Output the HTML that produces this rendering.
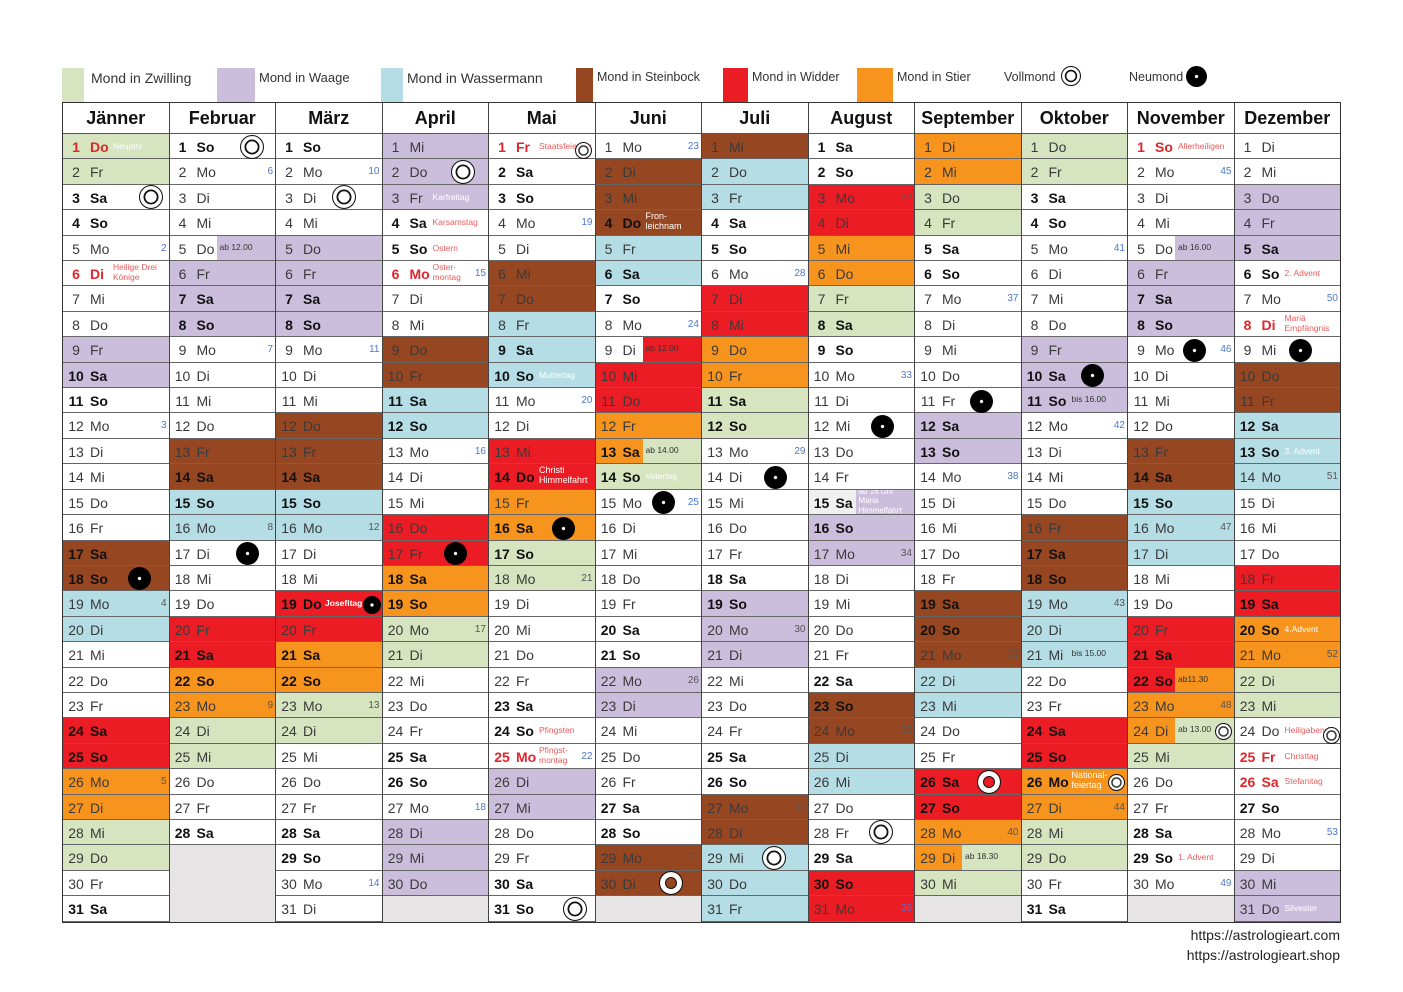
<!DOCTYPE html>
<html><head><meta charset="utf-8">
<style>
*{margin:0;padding:0;box-sizing:border-box}
body{width:1403px;height:992px;background:#fff;position:relative;font-family:"Liberation Sans",Arial,sans-serif;overflow:hidden}
.lg{position:absolute;top:68px;height:34px}
.lt{position:absolute;font-size:13px;color:#333;top:70px}
.col{position:absolute;top:102px;width:106.5px;height:820px;border-left:1.5px solid #444}
.hd{height:32px;line-height:32px;text-align:center;font-weight:bold;font-size:18px;color:#111;border-bottom:1.5px solid #555}
p{position:relative;height:25.42px;border-bottom:1.3px solid #666;font-size:14px;color:#3a3a3a}
p b{position:absolute;left:2px;width:22px;text-align:center;top:5px;font-weight:normal}
p i{position:absolute;left:27px;top:5px;font-style:normal}
p.k b,p.k i{font-weight:bold;color:#111}
p.h b,p.h i{font-weight:bold;color:#e0262b}
p u{position:absolute;right:2px;top:7px;font-size:10px;text-decoration:none;color:#4a78cc}
p em{position:absolute;left:50px;top:7px;font-size:8.5px;font-style:normal;color:#f05a5a;line-height:10px;white-space:nowrap}
p em.t{top:1px}
p em.d{color:#333;top:6px}
.g{background:#d6e4bf}.l{background:#cbbedc}.a{background:#b5dde5}.s{background:#974622}.r{background:#ec1c24}.o{background:#f7941d}.x{background:#e6e4e5}.y{background:#f0f0f0}
.g u,.l u,.a u,.s u,.r u,.o u{color:#555}
.g em,.l em,.a em,.s em,.r em,.o em{color:#fff}
.g em.d,.l em.d,.a em.d,.s em.d,.r em.d,.o em.d{color:#333}
.sp{position:absolute;left:47px;right:0;top:0;bottom:0}
.v{position:absolute;top:0.5px;width:24px;height:24px;margin-left:-12px;border-radius:50%;border:1.6px solid #111;background:#fff;box-shadow:inset 0 0 0 3.5px #fff,inset 0 0 0 5.3px #111}
.v.sm{width:17px;height:17px;margin-left:-8.5px;top:5px;border-width:1.3px;box-shadow:inset 0 0 0 2.2px #fff,inset 0 0 0 3.7px #333}
.v.w{box-shadow:inset 0 0 0 5px #fff,inset 0 0 0 6px #111;background:#974622}
.v.wr{box-shadow:inset 0 0 0 5px #fff,inset 0 0 0 6px #111;background:#ec1c24}
.n{position:absolute;top:1.5px;width:23px;height:23px;margin-left:-11.5px;border-radius:50%;background:radial-gradient(circle,#fff 1.3px,#000 2px)}
.n.sm{width:18px;height:18px;margin-left:-9px;top:5px}
.ft{position:absolute;right:63px;font-size:14px;color:#222}
</style></head><body>

<div class="lg g" style="left:62px;width:22px"></div><div class="lt" style="left:91px;font-size:14px">Mond in Zwilling</div>
<div class="lg l" style="left:217px;width:38px"></div><div class="lt" style="left:259px">Mond in Waage</div>
<div class="lg a" style="left:381px;width:22px"></div><div class="lt" style="left:407px;font-size:14px">Mond in Wassermann</div>
<div class="lg s" style="left:576px;width:17px"></div><div class="lt" style="left:597px;font-size:12.5px">Mond in Steinbock</div>
<div class="lg r" style="left:723px;width:25px"></div><div class="lt" style="left:752px;font-size:12.5px">Mond in Widder</div>
<div class="lg o" style="left:857px;width:36px"></div><div class="lt" style="left:897px;font-size:12.5px">Mond in Stier</div>
<div class="lt" style="left:1004px;font-size:12.5px">Vollmond</div><div class="v" style="left:1071px;top:66px;width:20px;height:20px;margin-left:-10px;border-width:1.3px;box-shadow:inset 0 0 0 2.8px #fff,inset 0 0 0 4.4px #111"></div>
<div class="lt" style="left:1129px;font-size:12.5px">Neumond</div><div class="n" style="left:1196px;top:66px;width:21px;height:21px;margin-left:-10.5px"></div>

<div style="position:absolute;left:62px;top:102px;width:1279px;height:821px;border:1.5px solid #333;z-index:5;pointer-events:none"></div>

<div class="col" style="left:62px"><div class="hd">Jänner</div>
<p class="g h"><b>1</b><i>Do</i><em>Neujahr</em></p>
<p class="g"><b>2</b><i>Fr</i></p>
<p class="k"><b>3</b><i>Sa</i><span class="v" style="left:88px"></span></p>
<p class="k"><b>4</b><i>So</i></p>
<p><b>5</b><i>Mo</i><u>2</u></p>
<p class="h"><b>6</b><i>Di</i><em class="t">Heilige Drei<br>Könige</em></p>
<p><b>7</b><i>Mi</i></p>
<p><b>8</b><i>Do</i></p>
<p class="l"><b>9</b><i>Fr</i></p>
<p class="l k"><b>10</b><i>Sa</i></p>
<p class="k"><b>11</b><i>So</i></p>
<p><b>12</b><i>Mo</i><u>3</u></p>
<p><b>13</b><i>Di</i></p>
<p><b>14</b><i>Mi</i></p>
<p><b>15</b><i>Do</i></p>
<p><b>16</b><i>Fr</i></p>
<p class="s k"><b>17</b><i>Sa</i></p>
<p class="s k"><b>18</b><i>So</i><span class="n" style="left:76px"></span></p>
<p class="a"><b>19</b><i>Mo</i><u>4</u></p>
<p class="a"><b>20</b><i>Di</i></p>
<p><b>21</b><i>Mi</i></p>
<p><b>22</b><i>Do</i></p>
<p><b>23</b><i>Fr</i></p>
<p class="r k"><b>24</b><i>Sa</i></p>
<p class="r k"><b>25</b><i>So</i></p>
<p class="o"><b>26</b><i>Mo</i><u>5</u></p>
<p class="o"><b>27</b><i>Di</i></p>
<p class="g"><b>28</b><i>Mi</i></p>
<p class="g"><b>29</b><i>Do</i></p>
<p><b>30</b><i>Fr</i></p>
<p class="k"><b>31</b><i>Sa</i></p>
</div>

<div class="col" style="left:168.5px"><div class="hd">Februar</div>
<p class="k"><b>1</b><i>So</i><span class="v" style="left:82px"></span></p>
<p><b>2</b><i>Mo</i><u>6</u></p>
<p><b>3</b><i>Di</i></p>
<p><b>4</b><i>Mi</i></p>
<p><span class="sp l"></span><b>5</b><i>Do</i><em class="d">ab 12.00</em></p>
<p class="l"><b>6</b><i>Fr</i></p>
<p class="l k"><b>7</b><i>Sa</i></p>
<p class="l k"><b>8</b><i>So</i></p>
<p><b>9</b><i>Mo</i><u>7</u></p>
<p><b>10</b><i>Di</i></p>
<p><b>11</b><i>Mi</i></p>
<p><b>12</b><i>Do</i></p>
<p class="s"><b>13</b><i>Fr</i></p>
<p class="s k"><b>14</b><i>Sa</i></p>
<p class="a k"><b>15</b><i>So</i></p>
<p class="a"><b>16</b><i>Mo</i><u>8</u></p>
<p><b>17</b><i>Di</i><span class="n" style="left:78px"></span></p>
<p><b>18</b><i>Mi</i></p>
<p><b>19</b><i>Do</i></p>
<p class="r"><b>20</b><i>Fr</i></p>
<p class="r k"><b>21</b><i>Sa</i></p>
<p class="o k"><b>22</b><i>So</i></p>
<p class="o"><b>23</b><i>Mo</i><u>9</u></p>
<p class="g"><b>24</b><i>Di</i></p>
<p class="g"><b>25</b><i>Mi</i></p>
<p><b>26</b><i>Do</i></p>
<p><b>27</b><i>Fr</i></p>
<p class="k"><b>28</b><i>Sa</i></p>
<p class="x" style="height:76.26px;border-bottom:none"></p>
</div>

<div class="col" style="left:275px"><div class="hd">März</div>
<p class="k"><b>1</b><i>So</i></p>
<p><b>2</b><i>Mo</i><u>10</u></p>
<p><b>3</b><i>Di</i><span class="v" style="left:68px"></span></p>
<p><b>4</b><i>Mi</i></p>
<p class="l"><b>5</b><i>Do</i></p>
<p class="l"><b>6</b><i>Fr</i></p>
<p class="l k"><b>7</b><i>Sa</i></p>
<p class="l k"><b>8</b><i>So</i></p>
<p><b>9</b><i>Mo</i><u>11</u></p>
<p><b>10</b><i>Di</i></p>
<p><b>11</b><i>Mi</i></p>
<p class="s"><b>12</b><i>Do</i></p>
<p class="s"><b>13</b><i>Fr</i></p>
<p class="s k"><b>14</b><i>Sa</i></p>
<p class="a k"><b>15</b><i>So</i></p>
<p class="a"><b>16</b><i>Mo</i><u>12</u></p>
<p><b>17</b><i>Di</i></p>
<p><b>18</b><i>Mi</i></p>
<p class="r k"><b>19</b><i>Do</i><em style="left:49px;font-weight:bold">Josefitag</em><span class="n sm" style="left:96px"></span></p>
<p class="r"><b>20</b><i>Fr</i></p>
<p class="o k"><b>21</b><i>Sa</i></p>
<p class="o k"><b>22</b><i>So</i></p>
<p class="g"><b>23</b><i>Mo</i><u>13</u></p>
<p class="g"><b>24</b><i>Di</i></p>
<p><b>25</b><i>Mi</i></p>
<p><b>26</b><i>Do</i></p>
<p><b>27</b><i>Fr</i></p>
<p class="k"><b>28</b><i>Sa</i></p>
<p class="k"><b>29</b><i>So</i></p>
<p><b>30</b><i>Mo</i><u>14</u></p>
<p><b>31</b><i>Di</i></p>
</div>

<div class="col" style="left:381.5px"><div class="hd">April</div>
<p class="l"><b>1</b><i>Mi</i></p>
<p class="l"><b>2</b><i>Do</i><span class="v" style="left:80px"></span></p>
<p class="l"><b>3</b><i>Fr</i><em>Karfreitag</em></p>
<p class="k"><b>4</b><i>Sa</i><em>Karsamstag</em></p>
<p class="k"><b>5</b><i>So</i><em>Ostern</em></p>
<p class="h"><b>6</b><i>Mo</i><em class="t">Oster-<br>montag</em><u>15</u></p>
<p><b>7</b><i>Di</i></p>
<p><b>8</b><i>Mi</i></p>
<p class="s"><b>9</b><i>Do</i></p>
<p class="s"><b>10</b><i>Fr</i></p>
<p class="a k"><b>11</b><i>Sa</i></p>
<p class="a k"><b>12</b><i>So</i></p>
<p><b>13</b><i>Mo</i><u>16</u></p>
<p><b>14</b><i>Di</i></p>
<p><b>15</b><i>Mi</i></p>
<p class="r"><b>16</b><i>Do</i></p>
<p class="r"><b>17</b><i>Fr</i><span class="n" style="left:73px"></span></p>
<p class="o k"><b>18</b><i>Sa</i></p>
<p class="o k"><b>19</b><i>So</i></p>
<p class="g"><b>20</b><i>Mo</i><u>17</u></p>
<p class="g"><b>21</b><i>Di</i></p>
<p><b>22</b><i>Mi</i></p>
<p><b>23</b><i>Do</i></p>
<p><b>24</b><i>Fr</i></p>
<p class="k"><b>25</b><i>Sa</i></p>
<p class="k"><b>26</b><i>So</i></p>
<p><b>27</b><i>Mo</i><u>18</u></p>
<p class="l"><b>28</b><i>Di</i></p>
<p class="l"><b>29</b><i>Mi</i></p>
<p class="l"><b>30</b><i>Do</i></p>
<p class="x" style="border-bottom:none"></p>
</div>

<div class="col" style="left:488px"><div class="hd">Mai</div>
<p class="h"><b>1</b><i>Fr</i><em>Staatsfeiertag</em><span class="v sm" style="left:94px;top:8px"></span></p>
<p class="k"><b>2</b><i>Sa</i></p>
<p class="k"><b>3</b><i>So</i></p>
<p><b>4</b><i>Mo</i><u>19</u></p>
<p><b>5</b><i>Di</i></p>
<p class="s"><b>6</b><i>Mi</i></p>
<p class="s"><b>7</b><i>Do</i></p>
<p class="a"><b>8</b><i>Fr</i></p>
<p class="a k"><b>9</b><i>Sa</i></p>
<p class="a k"><b>10</b><i>So</i><em>Muttertag</em></p>
<p><b>11</b><i>Mo</i><u>20</u></p>
<p><b>12</b><i>Di</i></p>
<p class="r"><b>13</b><i>Mi</i></p>
<p class="r k"><b>14</b><i>Do</i><em class="t" style="font-size:9px">Christi<br>Himmelfahrt</em></p>
<p class="o"><b>15</b><i>Fr</i></p>
<p class="o k"><b>16</b><i>Sa</i><span class="n" style="left:74px"></span></p>
<p class="g k"><b>17</b><i>So</i></p>
<p class="g"><b>18</b><i>Mo</i><u>21</u></p>
<p><b>19</b><i>Di</i></p>
<p><b>20</b><i>Mi</i></p>
<p><b>21</b><i>Do</i></p>
<p><b>22</b><i>Fr</i></p>
<p class="k"><b>23</b><i>Sa</i></p>
<p class="k"><b>24</b><i>So</i><em>Pfingsten</em></p>
<p class="h"><b>25</b><i>Mo</i><em class="t">Pfingst-<br>montag</em><u>22</u></p>
<p class="l"><b>26</b><i>Di</i></p>
<p class="l"><b>27</b><i>Mi</i></p>
<p><b>28</b><i>Do</i></p>
<p><b>29</b><i>Fr</i></p>
<p class="k"><b>30</b><i>Sa</i></p>
<p class="k"><b>31</b><i>So</i><span class="v" style="left:86px"></span></p>
</div>

<div class="col" style="left:594.5px"><div class="hd">Juni</div>
<p><b>1</b><i>Mo</i><u>23</u></p>
<p class="s"><b>2</b><i>Di</i></p>
<p class="s"><b>3</b><i>Mi</i></p>
<p class="s k"><b>4</b><i>Do</i><em class="t" style="font-size:9px">Fron-<br>leichnam</em></p>
<p class="a"><b>5</b><i>Fr</i></p>
<p class="a k"><b>6</b><i>Sa</i></p>
<p class="k"><b>7</b><i>So</i></p>
<p><b>8</b><i>Mo</i><u>24</u></p>
<p><span class="sp r"></span><b>9</b><i>Di</i><em class="d">ab 12.00</em></p>
<p class="r"><b>10</b><i>Mi</i></p>
<p class="r"><b>11</b><i>Do</i></p>
<p class="o"><b>12</b><i>Fr</i></p>
<p class="o k"><span class="sp g"></span><b>13</b><i>Sa</i><em class="d">ab 14.00</em></p>
<p class="g k"><b>14</b><i>So</i><em>Vatertag</em></p>
<p><b>15</b><i>Mo</i><span class="n" style="left:68px"></span><u>25</u></p>
<p><b>16</b><i>Di</i></p>
<p><b>17</b><i>Mi</i></p>
<p><b>18</b><i>Do</i></p>
<p><b>19</b><i>Fr</i></p>
<p class="k"><b>20</b><i>Sa</i></p>
<p class="k"><b>21</b><i>So</i></p>
<p class="l"><b>22</b><i>Mo</i><u>26</u></p>
<p class="l"><b>23</b><i>Di</i></p>
<p><b>24</b><i>Mi</i></p>
<p><b>25</b><i>Do</i></p>
<p><b>26</b><i>Fr</i></p>
<p class="k"><b>27</b><i>Sa</i></p>
<p class="k"><b>28</b><i>So</i></p>
<p class="s"><b>29</b><i>Mo</i><u>27</u></p>
<p class="s"><b>30</b><i>Di</i><span class="v w" style="left:75px"></span></p>
<p class="x" style="border-bottom:none"></p>
</div>

<div class="col" style="left:701px"><div class="hd">Juli</div>
<p class="s"><b>1</b><i>Mi</i></p>
<p class="a"><b>2</b><i>Do</i></p>
<p class="a"><b>3</b><i>Fr</i></p>
<p class="k"><b>4</b><i>Sa</i></p>
<p class="k"><b>5</b><i>So</i></p>
<p><b>6</b><i>Mo</i><u>28</u></p>
<p class="r"><b>7</b><i>Di</i></p>
<p class="r"><b>8</b><i>Mi</i></p>
<p class="o"><b>9</b><i>Do</i></p>
<p class="o"><b>10</b><i>Fr</i></p>
<p class="g k"><b>11</b><i>Sa</i></p>
<p class="g k"><b>12</b><i>So</i></p>
<p><b>13</b><i>Mo</i><u>29</u></p>
<p><b>14</b><i>Di</i><span class="n" style="left:73px"></span></p>
<p><b>15</b><i>Mi</i></p>
<p><b>16</b><i>Do</i></p>
<p><b>17</b><i>Fr</i></p>
<p class="k"><b>18</b><i>Sa</i></p>
<p class="l k"><b>19</b><i>So</i></p>
<p class="l"><b>20</b><i>Mo</i><u>30</u></p>
<p class="l"><b>21</b><i>Di</i></p>
<p><b>22</b><i>Mi</i></p>
<p><b>23</b><i>Do</i></p>
<p><b>24</b><i>Fr</i></p>
<p class="k"><b>25</b><i>Sa</i></p>
<p class="k"><b>26</b><i>So</i></p>
<p class="s"><b>27</b><i>Mo</i><u>31</u></p>
<p class="s"><b>28</b><i>Di</i></p>
<p class="a"><b>29</b><i>Mi</i><span class="v" style="left:72px"></span></p>
<p class="a"><b>30</b><i>Do</i></p>
<p class="a"><b>31</b><i>Fr</i></p>
</div>

<div class="col" style="left:807.5px"><div class="hd">August</div>
<p class="k"><b>1</b><i>Sa</i></p>
<p class="k"><b>2</b><i>So</i></p>
<p class="r"><b>3</b><i>Mo</i><u>32</u></p>
<p class="r"><b>4</b><i>Di</i></p>
<p class="o"><b>5</b><i>Mi</i></p>
<p class="o"><b>6</b><i>Do</i></p>
<p class="g"><b>7</b><i>Fr</i></p>
<p class="g k"><b>8</b><i>Sa</i></p>
<p class="k"><b>9</b><i>So</i></p>
<p><b>10</b><i>Mo</i><u>33</u></p>
<p><b>11</b><i>Di</i></p>
<p><b>12</b><i>Mi</i><span class="n" style="left:74px"></span></p>
<p><b>13</b><i>Do</i></p>
<p><b>14</b><i>Fr</i></p>
<p class="y k" style="overflow:hidden"><span class="sp l"></span><b>15</b><i>Sa</i><em style="color:#fff;top:-3px;font-size:8px;line-height:9.5px">ab 16 Uhr<br>Maria<br>Himmelfahrt</em></p>
<p class="l k"><b>16</b><i>So</i></p>
<p class="l"><b>17</b><i>Mo</i><u>34</u></p>
<p><b>18</b><i>Di</i></p>
<p><b>19</b><i>Mi</i></p>
<p><b>20</b><i>Do</i></p>
<p><b>21</b><i>Fr</i></p>
<p class="k"><b>22</b><i>Sa</i></p>
<p class="s k"><b>23</b><i>So</i></p>
<p class="s"><b>24</b><i>Mo</i><u>35</u></p>
<p class="a"><b>25</b><i>Di</i></p>
<p class="a"><b>26</b><i>Mi</i></p>
<p><b>27</b><i>Do</i></p>
<p><b>28</b><i>Fr</i><span class="v" style="left:72px"></span></p>
<p class="k"><b>29</b><i>Sa</i></p>
<p class="r k"><b>30</b><i>So</i></p>
<p class="r"><b>31</b><i>Mo</i><u style="color:#5a6fd0">36</u></p>
</div>

<div class="col" style="left:914px"><div class="hd">September</div>
<p class="o"><b>1</b><i>Di</i></p>
<p class="o"><b>2</b><i>Mi</i></p>
<p class="g"><b>3</b><i>Do</i></p>
<p class="g"><b>4</b><i>Fr</i></p>
<p class="k"><b>5</b><i>Sa</i></p>
<p class="k"><b>6</b><i>So</i></p>
<p><b>7</b><i>Mo</i><u>37</u></p>
<p><b>8</b><i>Di</i></p>
<p><b>9</b><i>Mi</i></p>
<p><b>10</b><i>Do</i></p>
<p><b>11</b><i>Fr</i><span class="n" style="left:66px"></span></p>
<p class="l k"><b>12</b><i>Sa</i></p>
<p class="l k"><b>13</b><i>So</i></p>
<p><b>14</b><i>Mo</i><u>38</u></p>
<p><b>15</b><i>Di</i></p>
<p><b>16</b><i>Mi</i></p>
<p><b>17</b><i>Do</i></p>
<p><b>18</b><i>Fr</i></p>
<p class="s k"><b>19</b><i>Sa</i></p>
<p class="s k"><b>20</b><i>So</i></p>
<p class="s"><b>21</b><i>Mo</i><u>39</u></p>
<p class="a"><b>22</b><i>Di</i></p>
<p class="a"><b>23</b><i>Mi</i></p>
<p><b>24</b><i>Do</i></p>
<p><b>25</b><i>Fr</i></p>
<p class="r k"><b>26</b><i>Sa</i><span class="v wr" style="left:74px"></span></p>
<p class="r k"><b>27</b><i>So</i></p>
<p class="o"><b>28</b><i>Mo</i><u>40</u></p>
<p class="o"><span class="sp g"></span><b>29</b><i>Di</i><em class="d">ab 18.30</em></p>
<p class="g"><b>30</b><i>Mi</i></p>
<p class="x" style="border-bottom:none"></p>
</div>

<div class="col" style="left:1020.5px"><div class="hd">Oktober</div>
<p class="g"><b>1</b><i>Do</i></p>
<p class="g"><b>2</b><i>Fr</i></p>
<p class="k"><b>3</b><i>Sa</i></p>
<p class="k"><b>4</b><i>So</i></p>
<p><b>5</b><i>Mo</i><u>41</u></p>
<p><b>6</b><i>Di</i></p>
<p><b>7</b><i>Mi</i></p>
<p><b>8</b><i>Do</i></p>
<p class="l"><b>9</b><i>Fr</i></p>
<p class="l k"><b>10</b><i>Sa</i><span class="n" style="left:71px"></span></p>
<p class="l k"><b>11</b><i>So</i><em class="d">bis 16.00</em></p>
<p><b>12</b><i>Mo</i><u>42</u></p>
<p><b>13</b><i>Di</i></p>
<p><b>14</b><i>Mi</i></p>
<p><b>15</b><i>Do</i></p>
<p class="s"><b>16</b><i>Fr</i></p>
<p class="s k"><b>17</b><i>Sa</i></p>
<p class="s k"><b>18</b><i>So</i></p>
<p class="a"><b>19</b><i>Mo</i><u>43</u></p>
<p class="a"><b>20</b><i>Di</i></p>
<p class="a"><b>21</b><i>Mi</i><em class="d">bis 15.00</em></p>
<p><b>22</b><i>Do</i></p>
<p><b>23</b><i>Fr</i></p>
<p class="r k"><b>24</b><i>Sa</i></p>
<p class="r k"><b>25</b><i>So</i></p>
<p class="o k"><b>26</b><i>Mo</i><em class="t" style="font-size:9px">National-<br>feiertag</em><span class="v sm" style="left:95px"></span></p>
<p class="o"><b>27</b><i>Di</i><u>44</u></p>
<p class="g"><b>28</b><i>Mi</i></p>
<p class="g"><b>29</b><i>Do</i></p>
<p><b>30</b><i>Fr</i></p>
<p class="k"><b>31</b><i>Sa</i></p>
</div>

<div class="col" style="left:1127px"><div class="hd">November</div>
<p class="h"><b>1</b><i>So</i><em>Allerheiligen</em></p>
<p><b>2</b><i>Mo</i><u>45</u></p>
<p><b>3</b><i>Di</i></p>
<p><b>4</b><i>Mi</i></p>
<p><span class="sp l"></span><b>5</b><i>Do</i><em class="d">ab 16.00</em></p>
<p class="l"><b>6</b><i>Fr</i></p>
<p class="l k"><b>7</b><i>Sa</i></p>
<p class="l k"><b>8</b><i>So</i></p>
<p><b>9</b><i>Mo</i><span class="n" style="left:66px"></span><u>46</u></p>
<p><b>10</b><i>Di</i></p>
<p><b>11</b><i>Mi</i></p>
<p><b>12</b><i>Do</i></p>
<p class="s"><b>13</b><i>Fr</i></p>
<p class="s k"><b>14</b><i>Sa</i></p>
<p class="a k"><b>15</b><i>So</i></p>
<p class="a"><b>16</b><i>Mo</i><u>47</u></p>
<p class="a"><b>17</b><i>Di</i></p>
<p><b>18</b><i>Mi</i></p>
<p><b>19</b><i>Do</i></p>
<p class="r"><b>20</b><i>Fr</i></p>
<p class="r k"><b>21</b><i>Sa</i></p>
<p class="r k"><span class="sp o"></span><b>22</b><i>So</i><em class="d">ab11.30</em></p>
<p class="o"><b>23</b><i>Mo</i><u>48</u></p>
<p class="o"><span class="sp g"></span><b>24</b><i>Di</i><em class="d">ab 13.00</em><span class="v sm" style="left:95px"></span></p>
<p class="g"><b>25</b><i>Mi</i></p>
<p><b>26</b><i>Do</i></p>
<p><b>27</b><i>Fr</i></p>
<p class="k"><b>28</b><i>Sa</i></p>
<p class="k"><b>29</b><i>So</i><em>1. Advent</em></p>
<p><b>30</b><i>Mo</i><u>49</u></p>
<p class="x" style="border-bottom:none"></p>
</div>

<div class="col" style="left:1233.5px"><div class="hd">Dezember</div>
<p><b>1</b><i>Di</i></p>
<p><b>2</b><i>Mi</i></p>
<p class="l"><b>3</b><i>Do</i></p>
<p class="l"><b>4</b><i>Fr</i></p>
<p class="l k"><b>5</b><i>Sa</i></p>
<p class="k"><b>6</b><i>So</i><em>2. Advent</em></p>
<p><b>7</b><i>Mo</i><u>50</u></p>
<p class="h"><b>8</b><i>Di</i><em class="t">Mariä<br>Empfängnis</em></p>
<p><b>9</b><i>Mi</i><span class="n" style="left:66px"></span></p>
<p class="s"><b>10</b><i>Do</i></p>
<p class="s"><b>11</b><i>Fr</i></p>
<p class="a k"><b>12</b><i>Sa</i></p>
<p class="a k"><b>13</b><i>So</i><em>3. Advent</em></p>
<p class="a"><b>14</b><i>Mo</i><u>51</u></p>
<p><b>15</b><i>Di</i></p>
<p><b>16</b><i>Mi</i></p>
<p><b>17</b><i>Do</i></p>
<p class="r"><b>18</b><i>Fr</i></p>
<p class="r k"><b>19</b><i>Sa</i></p>
<p class="o k"><b>20</b><i>So</i><em>4.Advent</em></p>
<p class="o"><b>21</b><i>Mo</i><u>52</u></p>
<p class="g"><b>22</b><i>Di</i></p>
<p class="g"><b>23</b><i>Mi</i></p>
<p><b>24</b><i>Do</i><em>Heiligabend</em><span class="v sm" style="left:97px;top:9px"></span></p>
<p class="h"><b>25</b><i>Fr</i><em>Christtag</em></p>
<p class="h"><b>26</b><i>Sa</i><em>Stefanitag</em></p>
<p class="k"><b>27</b><i>So</i></p>
<p><b>28</b><i>Mo</i><u>53</u></p>
<p><b>29</b><i>Di</i></p>
<p class="l"><b>30</b><i>Mi</i></p>
<p class="l"><b>31</b><i>Do</i><em>Silvester</em></p>
</div>

<div class="ft" style="top:927px">https://astrologieart.com</div>
<div class="ft" style="top:947px">https://astrologieart.shop</div>
</body></html>
